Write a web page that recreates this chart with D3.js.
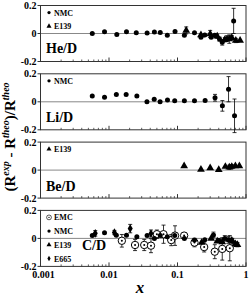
<!DOCTYPE html>
<html>
<head>
<meta charset="utf-8">
<script src="https://cdn.jsdelivr.net/npm/d3@7"></script>
<style>
  body { margin: 0; background: #fff; }
  svg text { font-family: "Liberation Serif", "DejaVu Serif", serif; font-weight: bold; }
</style>
</head>
<body>
<svg id="chart" width="249" height="298"></svg>
<script>
// [x, value, error]
const heNMC = [
  [0.0057, 0.000, 0.012], [0.0086, 0.013, 0.012], [0.013, -0.008, 0.008],
  [0.018, 0.013, 0.006], [0.025, 0.005, 0.005], [0.036, 0.003, 0.005],
  [0.046, 0.010, 0.005], [0.056, 0.008, 0.005], [0.071, -0.012, 0.005],
  [0.092, 0.014, 0.006], [0.126, -0.012, 0.010], [0.177, 0.005, 0.010],
  [0.22, -0.027, 0.012], [0.25, -0.010, 0.010], [0.31, -0.027, 0.012],
  [0.35, -0.012, 0.012], [0.41, -0.040, 0.015], [0.45, -0.063, 0.020],
  [0.53, -0.035, 0.020], [0.66, 0.090, 0.090],
];
const heE139 = [
  [0.134, 0.022, 0.025], [0.22, -0.010, 0.012], [0.30, -0.003, 0.025],
  [0.38, -0.020, 0.015], [0.49, -0.045, 0.015], [0.57, -0.040, 0.030],
  [0.62, -0.030, 0.015], [0.71, -0.050, 0.015], [0.82, -0.050, 0.012],
];
const liNMC = [
  [0.0057, 0.041, 0.004], [0.0086, 0.033, 0.004], [0.0128, 0.053, 0.004],
  [0.0178, 0.053, 0.004], [0.0255, 0.041, 0.004], [0.0358, 0.000, 0.004],
  [0.0457, 0.019, 0.004], [0.0557, 0.000, 0.004], [0.0714, 0.012, 0.004],
  [0.091, 0.007, 0.004], [0.126, 0.007, 0.005], [0.177, 0.007, 0.006],
  [0.253, 0.010, 0.008], [0.353, 0.029, 0.024], [0.452, -0.029, 0.038],
  [0.556, 0.090, 0.090], [0.68, -0.100, 0.120],
];
const beE139 = [
  [0.125, 0.030, 0.010], [0.22, 0.005, 0.010], [0.30, 0.015, 0.012],
  [0.40, 0.003, 0.010], [0.50, 0.025, 0.012], [0.57, 0.020, 0.015],
  [0.62, 0.025, 0.015], [0.70, 0.030, 0.012], [0.80, 0.030, 0.010],
];
const cNMC = [
  [0.0057, 0.020, 0.010], [0.0086, 0.040, 0.010], [0.0128, 0.023, 0.008],
  [0.018, 0.023, 0.006], [0.0255, 0.012, 0.006], [0.036, 0.020, 0.006],
  [0.046, 0.000, 0.006], [0.056, 0.020, 0.006], [0.071, 0.012, 0.006],
  [0.091, 0.020, 0.008], [0.126, 0.000, 0.010], [0.177, -0.012, 0.012],
  [0.25, -0.010, 0.012], [0.335, 0.025, 0.020], [0.40, -0.015, 0.015],
  [0.49, 0.000, 0.020], [0.55, -0.010, 0.025], [0.63, -0.020, 0.020],
];
const cE665 = [
  [0.0063, 0.036, 0.020], [0.012, 0.042, 0.015], [0.0204, 0.070, 0.030],
  [0.041, 0.035, 0.025],
];
const cEMC = [
  [0.0154, -0.017, 0.045], [0.024, -0.047, 0.040], [0.0327, -0.047, 0.040],
  [0.041, -0.052, 0.050], [0.050, 0.030, 0.030], [0.0625, 0.030, 0.065],
  [0.081, -0.012, 0.040], [0.092, 0.020, 0.070], [0.125, 0.020, 0.020],
  [0.177, -0.030, 0.030], [0.245, -0.062, 0.035], [0.35, -0.095, 0.050],
  [0.45, -0.075, 0.080], [0.58, -0.070, 0.090],
];
const cE139 = [
  [0.225, -0.030, 0.010], [0.31, 0.000, 0.010], [0.38, -0.020, 0.010],
  [0.45, -0.025, 0.010], [0.62, -0.015, 0.015], [0.70, -0.040, 0.015],
  [0.75, -0.045, 0.015],
];

const xTicks = [0.001, 0.01, 0.1, 1];
const xTickLabels = ['0.001', '0.01', '0.1', '1'];
const yTicks = [-0.2, 0, 0.2];
const yTickLabels = ['-0.2', '0', '0.2'];

const panels = [
  { label: 'He/D', series: [['nmc', heNMC], ['e139', heE139]], legend: [['nmc', 'NMC'], ['e139', 'E139']], labelY: 53 },
  { label: 'Li/D', series: [['nmc', liNMC]], legend: [['nmc', 'NMC']], labelY: 122 },
  { label: 'Be/D', series: [['e139', beE139]], legend: [['e139', 'E139']], labelY: 191 },
  { label: 'C/D', series: [['emc', cEMC], ['nmc', cNMC], ['e139', cE139], ['e665', cE665]],
    legend: [['emc', 'EMC'], ['nmc', 'NMC'], ['e139', 'E139'], ['e665', 'E665']], labelY: 250, labelX: 82 },
];

const margin = { left: 40.5, right: 3, top: 5.5 };
const width = 249;
const panelH = 56;
const pitch = 68.3;

const svg = d3.select('#chart');
const x = d3.scaleLog().domain([0.001, 1]).range([margin.left, width - margin.right]);

const drawMarker = (g, kind, cx, cy, k = 1) => {
  if (kind === 'nmc') {
    g.append('circle').attr('cx', cx).attr('cy', cy).attr('r', 2.5 * k).attr('fill', '#000');
  } else if (kind === 'emc') {
    g.append('circle').attr('cx', cx).attr('cy', cy).attr('r', 3.7 * k)
      .attr('fill', '#fff').attr('stroke', '#000').attr('stroke-width', 1 * k);
    g.append('circle').attr('cx', cx).attr('cy', cy).attr('r', 1 * k).attr('fill', '#000');
  } else {
    const type = kind === 'e139' ? d3.symbolTriangle : d3.symbolDiamond;
    const size = (kind === 'e139' ? 26 : 22) * k * k;
    g.append('path')
      .attr('d', d3.symbol().type(type).size(size)())
      .attr('transform', `translate(${cx},${cy})`)
      .attr('fill', '#000');
  }
};

panels.forEach((p, i) => {
  const top = margin.top + i * pitch;
  const y = d3.scaleLinear().domain([-0.2, 0.2]).range([top + panelH, top]);
  const g = svg.append('g');

  // zero line
  g.append('line')
    .attr('x1', x.range()[0]).attr('x2', x.range()[1])
    .attr('y1', y(0)).attr('y2', y(0))
    .attr('stroke', '#888').attr('stroke-width', 1);

  // frame
  g.append('rect')
    .attr('x', x.range()[0]).attr('y', top)
    .attr('width', x.range()[1] - x.range()[0]).attr('height', panelH)
    .attr('fill', 'none').attr('stroke', '#333').attr('stroke-width', 1);

  // bottom ticks (inside)
  const minor = [];
  for (let e = -3; e < 0; e++) {
    for (let k = 2; k <= 9; k++) minor.push(k * Math.pow(10, e));
  }
  g.selectAll('.minor').data(minor).enter().append('line')
    .attr('x1', (d) => x(d)).attr('x2', (d) => x(d))
    .attr('y1', top + panelH).attr('y2', top + panelH - 2)
    .attr('stroke', '#333').attr('stroke-width', 0.8);
  g.selectAll('.major').data(xTicks).enter().append('line')
    .attr('x1', (d) => x(d)).attr('x2', (d) => x(d))
    .attr('y1', top + panelH).attr('y2', top + panelH - 4)
    .attr('stroke', '#333').attr('stroke-width', 1);

  // y ticks
  yTicks.forEach((t, j) => {
    g.append('line')
      .attr('x1', x.range()[0] - 3).attr('x2', x.range()[0])
      .attr('y1', y(t)).attr('y2', y(t))
      .attr('stroke', '#333');
    g.append('text')
      .attr('x', x.range()[0] - 4).attr('y', y(t) + 3.5)
      .attr('text-anchor', 'end').attr('font-size', '10px')
      .text(yTickLabels[j]);
  });

  // panel label
  g.append('text')
    .attr('x', p.labelX || 46).attr('y', p.labelY)
    .attr('font-size', '14px')
    .text(p.label);

  // legend
  p.legend.forEach(([kind, name], j) => {
    const ly = top + 7 + j * 13.7;
    drawMarker(g, kind, 49, ly, 0.65);
    g.append('text')
      .attr('x', 54).attr('y', ly + 3)
      .attr('font-size', '8px')
      .text(name);
  });

  // data
  p.series.forEach(([kind, data]) => {
    const s = g.append('g');
    data.forEach(([xv, yv, err]) => {
      const cx = x(xv);
      const y0 = y(yv - err);
      const y1 = y(yv + err);
      if (y0 - y1 > 4) {
        s.append('line').attr('x1', cx).attr('x2', cx).attr('y1', y0).attr('y2', y1)
          .attr('stroke', '#000').attr('stroke-width', 0.8);
        [y0, y1].forEach((yy) => {
          s.append('line').attr('x1', cx - 2).attr('x2', cx + 2).attr('y1', yy).attr('y2', yy)
            .attr('stroke', '#000').attr('stroke-width', 0.8);
        });
      }
      drawMarker(s, kind, cx, y(yv));
    });
  });

  // x tick labels on the last panel
  if (i === panels.length - 1) {
    xTicks.forEach((t, j) => {
      g.append('text')
        .attr('x', x(t) + (j === 0 ? 3 : 0)).attr('y', top + panelH + 11.5)
        .attr('text-anchor', 'middle').attr('font-size', '10px')
        .text(xTickLabels[j]);
    });
  }
});

// axis titles
svg.append('text')
  .attr('x', 140).attr('y', 293)
  .attr('text-anchor', 'middle')
  .attr('font-size', '17px').attr('font-style', 'italic')
  .text('x');

const yl = svg.append('text')
  .attr('transform', 'translate(15,137) rotate(-90)')
  .attr('text-anchor', 'middle')
  .attr('font-size', '15px');
yl.append('tspan').text('(R');
yl.append('tspan').attr('font-size', '10px').attr('font-style', 'italic').attr('dy', -6).text('exp');
yl.append('tspan').attr('dy', 6).text(' - R');
yl.append('tspan').attr('font-size', '10px').attr('font-style', 'italic').attr('dy', -6).text('theo');
yl.append('tspan').attr('dy', 6).text(')/R');
yl.append('tspan').attr('font-size', '10px').attr('font-style', 'italic').attr('dy', -6).text('theo');
</script>
</body>
</html>
